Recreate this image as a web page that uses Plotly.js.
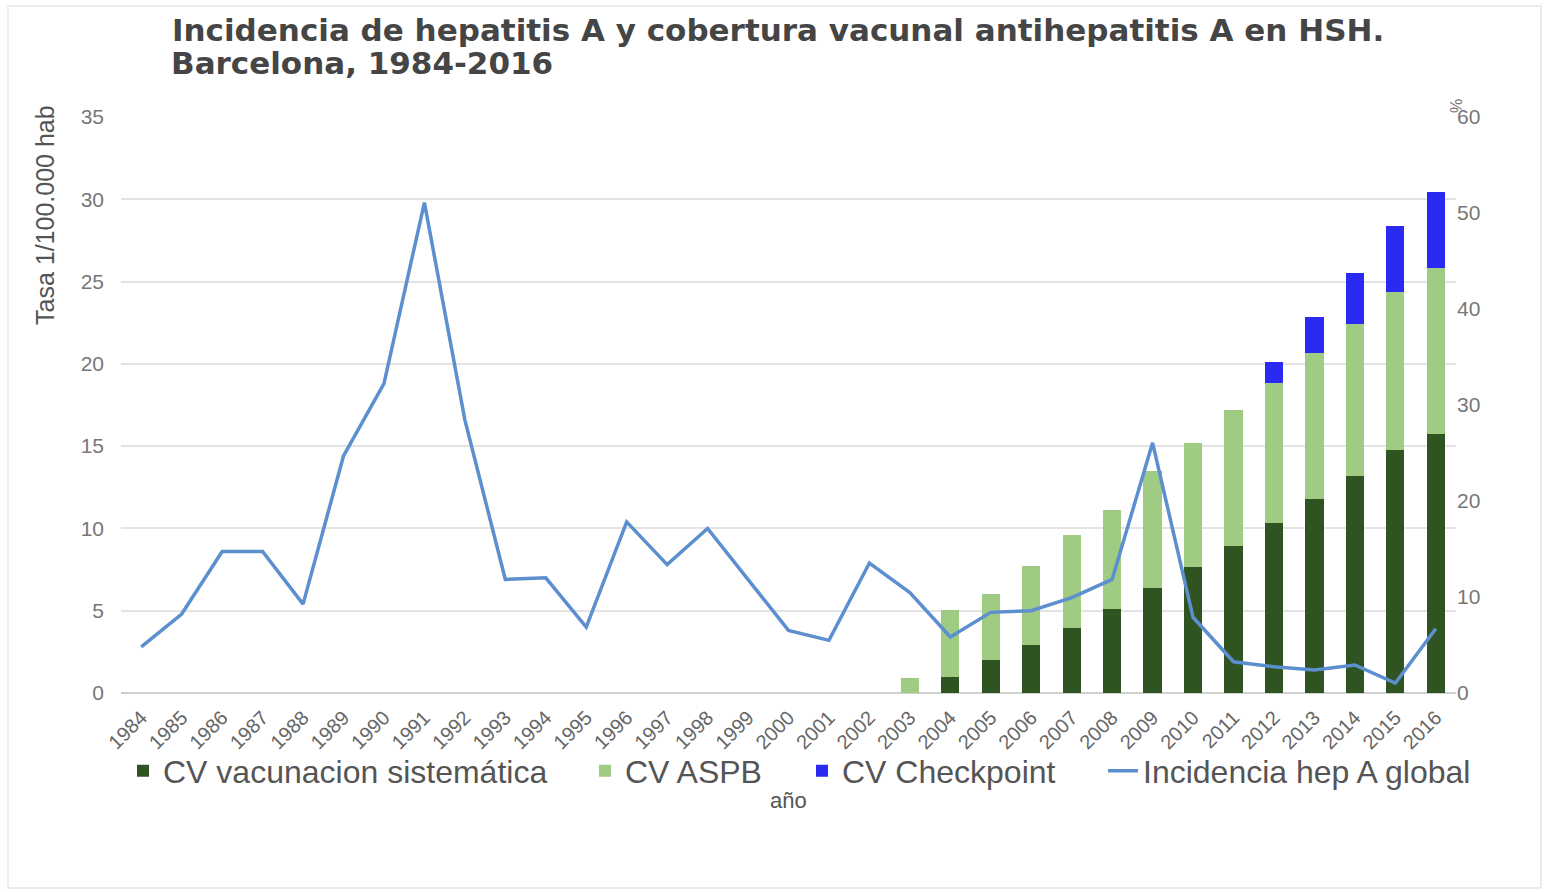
<!DOCTYPE html>
<html>
<head>
<meta charset="utf-8">
<script src="https://cdn.plot.ly/plotly-3.0.1.min.js"></script>
<style>
  html, body { margin: 0; padding: 0; background: #fff; }
  #plot { width: 1545px; height: 892px; }
</style>
</head>
<body>
<div id="plot"></div>
<script>
// years on the x axis
let years = []
for (let y = 1984; y <= 2016; y++) years.push(String(y))

// incidence of hepatitis A, rate per 100.000 (left axis)
let incidencia = [2.8, 4.8, 8.6, 8.6, 5.4, 14.4, 18.8, 29.8, 16.6, 6.9, 7.0, 4.0, 10.4, 7.8, 10.0,
                  6.9, 3.8, 3.2, 7.9, 6.1, 3.4, 4.9, 5.0, 5.8, 6.9, 15.2, 4.6, 1.9, 1.6, 1.4, 1.7, 0.6, 3.9]

// vaccine coverage in % (right axis), stacked; null = no bar
let cvSistematica = [null, null, null, null, null, null, null, null, null, null, null, null, null, null, null,
                     null, null, null, null, null, 1.7, 3.4, 5.0, 6.8, 8.8, 10.9, 13.1, 15.3, 17.7, 20.2, 22.6, 25.3, 27.0]
let cvASPB = [null, null, null, null, null, null, null, null, null, null, null, null, null, null, null,
              null, null, null, null, 1.6, 6.9, 6.9, 8.2, 9.7, 10.3, 12.2, 12.9, 14.2, 14.6, 15.2, 15.8, 16.5, 17.3]
let cvCheckpoint = [null, null, null, null, null, null, null, null, null, null, null, null, null, null, null,
                    null, null, null, null, null, null, null, null, null, null, null, null, null, 2.2, 3.8, 5.3, 6.8, 7.9]

let font = 'Liberation Sans, Arial, sans-serif'

// bars go on the main y axis (drawn right) so the line, on the overlaying axis, sits on top
// each trace gets its own legend so the entries can sit where the original has them
let traceSis = {
    x: years, y: cvSistematica, name: 'CV vacunacion sistemática',
    type: 'bar', yaxis: 'y', legend: 'legend', marker: {color: '#2f5422'}
}
let traceASPB = {
    x: years, y: cvASPB, name: 'CV ASPB',
    type: 'bar', yaxis: 'y', legend: 'legend2', marker: {color: '#9fcb83'}
}
let traceCheck = {
    x: years, y: cvCheckpoint, name: 'CV Checkpoint',
    type: 'bar', yaxis: 'y', legend: 'legend3', marker: {color: '#2a2af2'}
}
let traceInc = {
    x: years, y: incidencia, name: 'Incidencia hep A global',
    type: 'scatter', mode: 'lines', yaxis: 'y2', legend: 'legend4',
    line: {color: '#5b8fcf', width: 3.5}
}

let data = [traceSis, traceASPB, traceCheck, traceInc]

// legend box for one entry, x = pixel where its box starts
function legendAt(px) {
    return {
        orientation: 'h',
        xref: 'container', x: px / 1545, xanchor: 'left',
        yref: 'container', y: 1 - 771 / 892, yanchor: 'middle',
        bgcolor: 'rgba(0,0,0,0)',
        font: {size: 32, color: '#555'},
        itemwidth: 30
    }
}

let layout = {
    width: 1545,
    height: 892,
    paper_bgcolor: '#fff',
    plot_bgcolor: '#fff',
    margin: {l: 121, r: 89, t: 117, b: 199},
    barmode: 'stack',
    bargap: 0.55,
    showlegend: true,
    font: {family: font, color: '#666'},
    title: {
        text: '<b>Incidencia de hepatitis A y cobertura vacunal antihepatitis A en HSH.</b>',
        font: {family: 'DejaVu Sans, sans-serif', size: 31, color: '#454545'},
        xref: 'container', x: 172 / 1545, xanchor: 'left',
        yref: 'container', y: 1 - 30 / 892, yanchor: 'middle'
    },
    xaxis: {
        type: 'category',
        tickangle: -45,
        tickfont: {size: 20, color: '#666'},
        ticklabelstandoff: 8,
        showgrid: false,
        ticks: '',
        showline: false
    },
    yaxis: {
        side: 'right',
        range: [0, 60],
        dtick: 10,
        showgrid: false,
        zeroline: false,
        tickfont: {size: 21, color: '#777'},
        ticks: ''
    },
    yaxis2: {
        overlaying: 'y',
        side: 'left',
        range: [0, 35],
        dtick: 5,
        showgrid: true,
        gridcolor: '#e3e3e3',
        gridwidth: 1.5,
        zeroline: true,
        zerolinecolor: '#cfcfcf',
        zerolinewidth: 1.5,
        tickfont: {size: 21, color: '#777'},
        ticklabelstandoff: 16,
        ticks: ''
    },
    legend: legendAt(123),
    legend2: legendAt(585),
    legend3: legendAt(802),
    legend4: legendAt(1103),
    annotations: [
        {
            // second line of the title
            text: '<b>Barcelona, 1984-2016</b>',
            xref: 'paper', yref: 'paper',
            x: (169 - 121) / 1335, y: (693 - 63) / 576,
            xanchor: 'left', yanchor: 'middle',
            showarrow: false, font: {family: 'DejaVu Sans, sans-serif', size: 31, color: '#454545'}
        },
        {
            text: 'Tasa 1/100.000 hab', textangle: -90,
            xref: 'paper', yref: 'paper',
            x: (45 - 121) / 1335, y: (693 - 215) / 576,
            xanchor: 'center', yanchor: 'middle',
            showarrow: false, font: {size: 25, color: '#555'}
        },
        {
            text: '%', textangle: -90,
            xref: 'paper', yref: 'paper',
            x: (1457 - 121) / 1335, y: (693 - 106) / 576,
            xanchor: 'center', yanchor: 'middle',
            showarrow: false, font: {size: 16, color: '#777'}
        },
        {
            text: 'año',
            xref: 'paper', yref: 'paper',
            x: (788 - 121) / 1335, y: (693 - 800) / 576,
            xanchor: 'center', yanchor: 'middle',
            showarrow: false, font: {size: 22, color: '#555'}
        }
    ],
    shapes: [
        {
            type: 'rect', xref: 'paper', yref: 'paper',
            x0: (8 - 121) / 1335, x1: (1541 - 121) / 1335,
            y0: (693 - 888) / 576, y1: (693 - 6) / 576,
            line: {color: '#e6e6e6', width: 1.5}
        }
    ]
}

Plotly.newPlot('plot', data, layout, {displayModeBar: false})
</script>
</body>
</html>
